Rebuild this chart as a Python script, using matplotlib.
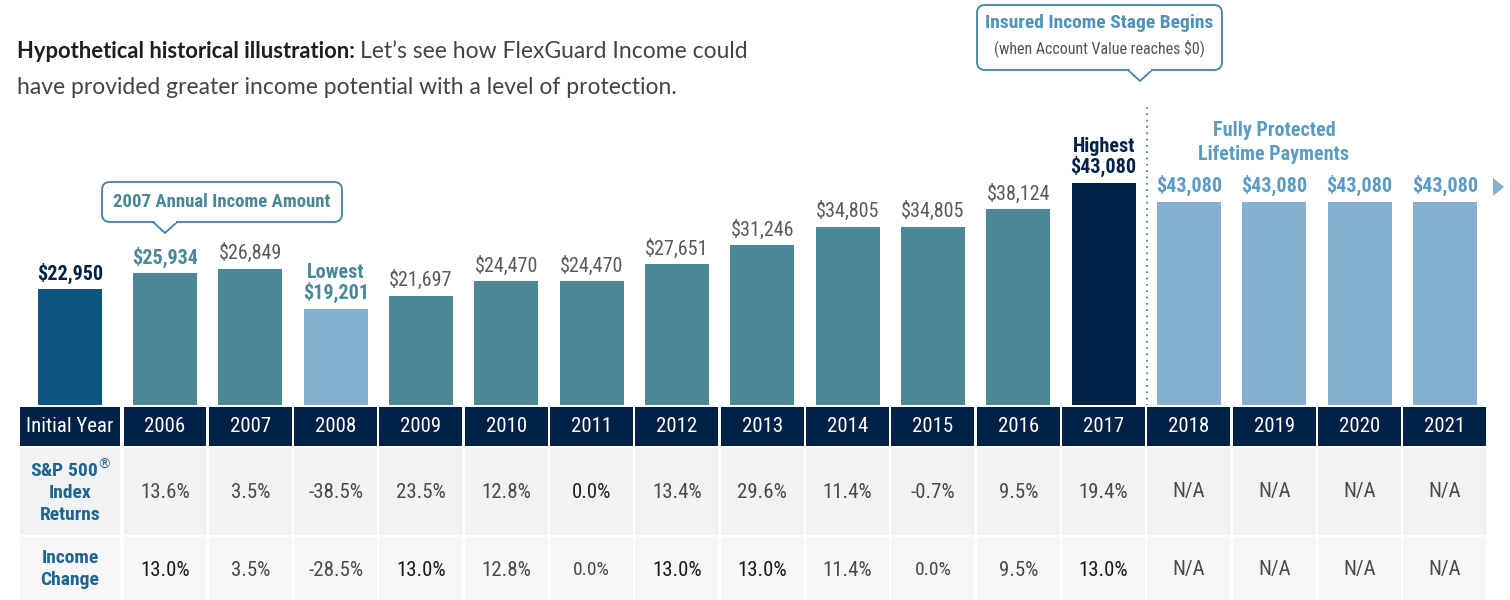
import matplotlib
matplotlib.use("Agg")
import matplotlib.pyplot as plt
from matplotlib import font_manager
from matplotlib.patches import Rectangle, FancyBboxPatch, Polygon

# pick a condensed face for the chart text
installed = {f.name for f in font_manager.fontManager.ttflist}
COND = "DejaVu Sans"
for cand in ["Roboto Condensed", "Liberation Sans Narrow", "Open Sans Condensed", "Noto Sans Condensed"]:
    if cand in installed:
        COND = cand
        break
STRETCH = "condensed" if COND == "DejaVu Sans" else "normal"
BODY = "Lato"

years = ["Initial Year", "2006", "2007", "2008", "2009", "2010", "2011", "2012", "2013",
         "2014", "2015", "2016", "2017", "2018", "2019", "2020", "2021"]
income = [22950, 25934, 26849, 19201, 21697, 24470, 24470, 27651, 31246,
          34805, 34805, 38124, 43080, 43080, 43080, 43080, 43080]
# the graphic draws the four protected years a little shorter than their value
drawn = income[:13] + [39450, 39450, 39450, 39450]
sp_returns = ["13.6%", "3.5%", "-38.5%", "23.5%", "12.8%", "0.0%", "13.4%", "29.6%",
              "11.4%", "-0.7%", "9.5%", "19.4%", "N/A", "N/A", "N/A", "N/A"]
income_change = ["13.0%", "3.5%", "-28.5%", "13.0%", "12.8%", "0.0%", "13.0%", "13.0%",
                 "11.4%", "0.0%", "9.5%", "13.0%", "N/A", "N/A", "N/A", "N/A"]

NAVY = "#012147"
DEEP = "#0b5580"
TEAL = "#4a8896"
LIGHT = "#85b1cf"
PROT = "#5a9cc2"
GRAY = "#5a5a5a"
LABEL_BLUE = "#1d6690"

bar_colors = [DEEP, TEAL, TEAL, LIGHT] + [TEAL] * 8 + [NAVY] + [LIGHT] * 4
bar_labels = ["$22,950", "$25,934", "$26,849", "Lowest\n$19,201"] + \
             ["${:,}".format(v) for v in income[4:12]] + \
             ["Highest\n$43,080"] + ["$43,080"] * 4
label_colors = [NAVY, TEAL, GRAY, TEAL] + [GRAY] * 8 + [NAVY] + [PROT] * 4
label_bold = [True, True, False, True] + [False] * 8 + [True] * 5

W, H = 1510, 600
COLW = 85.33
x0 = 1 - 165 / COLW
x1 = 1 + (W - 165) / COLW
# the label column sits a bit closer to 2006 than the regular spacing
pos = [1 - 95 / COLW] + list(range(1, len(years)))

fig = plt.figure(figsize=(15.1, 6), dpi=100)

# bars
ax = fig.add_axes([0, 195 / H, 1, 405 / H])
ax.bar(pos, drawn, width=64 / COLW, color=bar_colors, bottom=0)
ax.set_xlim(x0, x1)
ax.set_ylim(1000, 1000 + 405 / 0.00528)
ax.axis("off")
for i, (lab, c, b) in enumerate(zip(bar_labels, label_colors, label_bold)):
    ax.annotate(lab, (pos[i], drawn[i]), xytext=(0, 4), textcoords="offset points",
                ha="center", va="bottom", fontsize=14.5, color=c,
                fontweight="bold" if b else "normal", family=COND,
                fontstretch=STRETCH, linespacing=1.0)

# table
tb = fig.add_axes([0, 0, 1, 195 / H])
tb.set_xlim(x0, x1)
tb.set_ylim(600, 405)
tb.axis("off")
rows = [(407, 446, NAVY), (448, 535, "#f1f2f4"), (537, 600, "#f7f7f7")]
for i, p in enumerate(pos):
    hw = 50 / COLW if i == 0 else 41.5 / COLW
    for top, bot, col in rows:
        tb.add_patch(Rectangle((p - hw, top), 2 * hw, bot - top, color=col, lw=0))
    tb.text(p, 427, years[i], ha="center", va="center", color="white",
            fontsize=15, family=COND, fontstretch=STRETCH)

tb.text(pos[0], 491, "S&P 500$^{\u00ae}$\nIndex\nReturns", ha="center", va="center",
        color=LABEL_BLUE, fontsize=14, fontweight="bold", family=COND,
        fontstretch=STRETCH, linespacing=1.25)
tb.text(pos[0], 569, "Income\nChange", ha="center", va="center", color=LABEL_BLUE,
        fontsize=14, fontweight="bold", family=COND, fontstretch=STRETCH,
        linespacing=1.25)
for j, (a, b) in enumerate(zip(sp_returns, income_change)):
    p = pos[j + 1]
    tb.text(p, 492, a, ha="center", va="center", fontsize=15, family=COND,
            fontstretch=STRETCH, color="#222222" if a == "0.0%" else "#4a4a4a")
    cb = "#1a1a1a" if b == "13.0%" else "#4a4a4a"
    tb.text(p, 570, b, ha="center", va="center", fontsize=14 if b == "0.0%" else 15,
            family=COND, fontstretch=STRETCH, color=cb)

# overlay in pixel space for callouts and titles
ov = fig.add_axes([0, 0, 1, 1])
ov.set_xlim(0, W)
ov.set_ylim(H, 0)
ov.axis("off")
ov.patch.set_alpha(0)

BORDER = "#3f84a8"


def callout(x_left, y_top, w, h, tip_x, tip_y):
    ov.add_patch(FancyBboxPatch((x_left, y_top), w, h,
                                boxstyle="round,pad=0,rounding_size=8",
                                fc="white", ec=BORDER, lw=1.3, zorder=5))
    ov.add_patch(Polygon([(tip_x - 12, y_top + h), (tip_x, tip_y), (tip_x + 12, y_top + h)],
                         closed=False, fc="white", ec=BORDER, lw=1.3, zorder=6))
    ov.add_patch(Rectangle((tip_x - 10.5, y_top + h - 2), 21, 3, fc="white", lw=0, zorder=7))


callout(102, 182, 240, 40, 165, 233)
ov.text(222, 202, "2007 Annual Income Amount", ha="center", va="center", color=TEAL,
        fontsize=13.5, fontweight="bold", family=COND, fontstretch=STRETCH, zorder=8)

callout(977, 5, 245, 65, 1140, 81)
ov.text(1099, 23, "Insured Income Stage Begins", ha="center", va="center", color="#4f93b8",
        fontsize=14, fontweight="bold", family=COND, fontstretch=STRETCH, zorder=8)
ov.text(1099, 48, "(when Account Value reaches $0)", ha="center", va="center", color="#555555",
        fontsize=11.5, family=COND, fontstretch=STRETCH, zorder=8)

ov.plot([1147, 1147], [107, 405], color=BORDER, lw=1.3, ls=(0, (1, 2.5)))

ov.text(1274, 131, "Fully Protected", ha="center", va="center", color=PROT,
        fontsize=14.5, fontweight="bold", family=COND, fontstretch=STRETCH)
ov.text(1274, 155, "Lifetime Payments", ha="center", va="center", color=PROT,
        fontsize=14.5, fontweight="bold", family=COND, fontstretch=STRETCH)
ov.add_patch(Polygon([(1493, 178), (1504, 187), (1493, 196)], closed=True, fc=LIGHT, lw=0))

# headline
t1 = ov.text(17, 52, "Hypothetical historical illustration:", ha="left", va="center",
             fontsize=15.8, fontweight="bold", family=BODY, color="#1e1e1e")
fig.canvas.draw()
bb = t1.get_window_extent()
x_after = bb.x1 * W / (fig.get_figwidth() * fig.dpi)
ov.text(x_after + 5, 52, "Let\u2019s see how FlexGuard Income could", ha="left", va="center",
        fontsize=16.5, family=BODY, color="#444444")
ov.text(17, 88, "have provided greater income potential with a level of protection.",
        ha="left", va="center", fontsize=16.5, family=BODY, color="#444444")

fig.savefig("out.png", dpi=100)
